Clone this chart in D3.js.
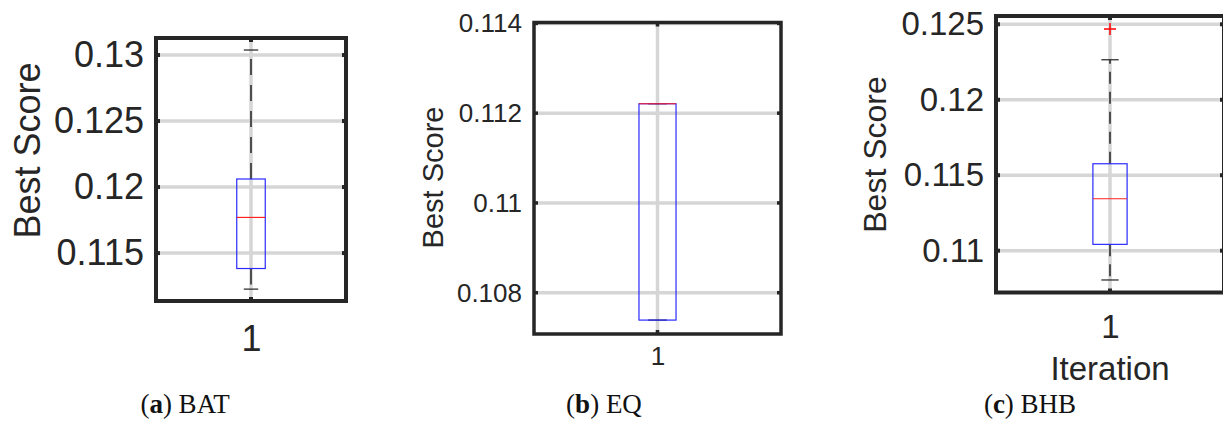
<!DOCTYPE html>
<html lang="en">
<head>
<meta charset="utf-8">
<title>Best Score box plots</title>
<script src="https://cdn.jsdelivr.net/npm/d3@7/dist/d3.min.js"></script>
<style>
  body { margin: 0; background: #fff; }
  svg text { fill: #262626; font-family: "Liberation Sans", Arial, sans-serif; }
  svg .caption text { font-family: "Liberation Serif", "DejaVu Serif", serif; fill: #111; }
</style>
</head>
<body>
<script>
// ---- data ----
var panelNames = ["BAT", "EQ", "BHB"];
var captionLetters = ["a", "b", "c"];
var categories = ["1"];
var yDomains = [[0.11137, 0.13129], [0.10708, 0.11402], [0.10723, 0.12555]];
var yTicks = [[0.115, 0.12, 0.125, 0.13], [0.108, 0.11, 0.112, 0.114], [0.11, 0.115, 0.12, 0.125]];
var whiskerLow  = [0.11227, 0.10739, 0.10806];
var q1          = [0.11383, 0.10739, 0.11042];
var median      = [0.11770, 0.11221, 0.11344];
var q3          = [0.12061, 0.11221, 0.11576];
var whiskerHigh = [0.13038, 0.11221, 0.12265];
var outliers    = [[], [], [0.12469]];
var xLabels     = ["", "", "Iteration"];

// ---- layout (pixels) ----
var W = 1223, H = 425;
var frames = [
  {left: 156, right: 346, top: 38, bottom: 301, font: 36, labelFont: 36, frameW: 4, dash: "16,10", labelX: 40, labelY: 150.5, xPad: 24},
  {left: 534, right: 781, top: 22.5, bottom: 334, font: 26, labelFont: 29, frameW: 3.5, dash: "14,9", labelX: 443, labelY: 177.5, xPad: 13},
  {left: 996, right: 1224, top: 16, bottom: 292.5, font: 33, labelFont: 32, frameW: 4, dash: "12,8", labelX: 886, labelY: 154.5, xPad: 22}
];
var captionX = [185, 604, 1030];
var captionY = 413;
var boxHalf = 0.075, capHalf = 0.038;

var svg = d3.select("body").append("svg")
  .attr("width", W)
  .attr("height", H);

panelNames.forEach(function(name, i) {
  var f = frames[i];
  var g = svg.append("g");

  var x = d3.scaleLinear().domain([0.5, 1.5]).range([f.left, f.right]);
  var y = d3.scaleLinear().domain(yDomains[i]).range([f.bottom, f.top]);

  // grid lines
  g.selectAll(".hgrid")
    .data(yTicks[i])
    .enter()
    .append("line")
    .attr("x1", f.left).attr("x2", f.right)
    .attr("y1", function(d) { return y(d); })
    .attr("y2", function(d) { return y(d); })
    .attr("stroke", "#d6d6d6")
    .attr("stroke-width", 3.5);
  g.selectAll(".vgrid")
    .data(categories)
    .enter()
    .append("line")
    .attr("x1", function(d) { return x(+d); })
    .attr("x2", function(d) { return x(+d); })
    .attr("y1", f.top).attr("y2", f.bottom)
    .attr("stroke", "#d6d6d6")
    .attr("stroke-width", 3.5);

  // y axis tick labels via d3 axis
  var yAxis = d3.axisLeft(y)
    .tickValues(yTicks[i])
    .tickFormat(function(d) { return String(+d.toFixed(4)); })
    .tickSize(0)
    .tickPadding(12);
  var ya = g.append("g")
    .attr("transform", "translate(" + f.left + ",0)")
    .call(yAxis);
  ya.select(".domain").remove();
  ya.selectAll("text")
    .attr("font-size", f.font);

  // x axis tick labels
  var xAxis = d3.axisBottom(x)
    .tickValues(categories.map(Number))
    .tickFormat(d3.format("d"))
    .tickSize(0)
    .tickPadding(f.xPad);
  var xa = g.append("g")
    .attr("transform", "translate(0," + f.bottom + ")")
    .call(xAxis);
  xa.select(".domain").remove();
  xa.selectAll("text")
    .attr("font-size", f.font);

  if (xLabels[i]) {
    g.append("text")
      .attr("x", x(1))
      .attr("y", 380)
      .attr("text-anchor", "middle")
      .attr("font-size", f.font)
      .text(xLabels[i]);
  }

  // y label
  g.append("text")
    .attr("transform", "translate(" + f.labelX + "," + f.labelY + ") rotate(-90)")
    .attr("text-anchor", "middle")
    .attr("font-size", f.labelFont)
    .text("Best Score");

  // box plot
  var c = 1;
  g.append("line")
    .attr("x1", x(c)).attr("x2", x(c))
    .attr("y1", y(q3[i])).attr("y2", y(whiskerHigh[i]))
    .attr("stroke", "#222").attr("stroke-width", 1.5)
    .attr("stroke-dasharray", f.dash);
  g.append("line")
    .attr("x1", x(c)).attr("x2", x(c))
    .attr("y1", y(q1[i])).attr("y2", y(whiskerLow[i]))
    .attr("stroke", "#222").attr("stroke-width", 1.5)
    .attr("stroke-dasharray", f.dash);
  [whiskerLow[i], whiskerHigh[i]].forEach(function(v) {
    g.append("line")
      .attr("x1", x(c - capHalf)).attr("x2", x(c + capHalf))
      .attr("y1", y(v)).attr("y2", y(v))
      .attr("stroke", "#222").attr("stroke-width", 1.2);
  });
  g.append("rect")
    .attr("x", x(c - boxHalf))
    .attr("width", x(c + boxHalf) - x(c - boxHalf))
    .attr("y", y(q3[i]))
    .attr("height", Math.max(0.5, y(q1[i]) - y(q3[i])))
    .attr("fill", "none")
    .attr("stroke", "#2a2aff")
    .attr("stroke-width", 1.2);
  g.append("line")
    .attr("x1", x(c - boxHalf)).attr("x2", x(c + boxHalf))
    .attr("y1", y(median[i])).attr("y2", y(median[i]))
    .attr("stroke", "#ff2020").attr("stroke-width", 1.2);

  outliers[i].forEach(function(v) {
    g.append("path")
      .attr("d", "M" + (x(c) - 6) + "," + y(v) + "h12M" + x(c) + "," + (y(v) - 6) + "v12")
      .attr("stroke", "#ff0000").attr("stroke-width", 1.5).attr("fill", "none");
  });

  // frame and inner ticks
  g.append("rect")
    .attr("x", f.left).attr("y", f.top)
    .attr("width", f.right - f.left).attr("height", f.bottom - f.top)
    .attr("fill", "none")
    .attr("stroke", "#262626")
    .attr("stroke-width", f.frameW);
  yTicks[i].forEach(function(t) {
    g.append("line").attr("x1", f.left).attr("x2", f.left + 4)
      .attr("y1", y(t)).attr("y2", y(t))
      .attr("stroke", "#262626").attr("stroke-width", f.frameW);
    g.append("line").attr("x1", f.right - 4).attr("x2", f.right)
      .attr("y1", y(t)).attr("y2", y(t))
      .attr("stroke", "#262626").attr("stroke-width", f.frameW);
  });
  g.append("line").attr("x1", x(c)).attr("x2", x(c))
    .attr("y1", f.top).attr("y2", f.top + 4)
    .attr("stroke", "#262626").attr("stroke-width", f.frameW);
  g.append("line").attr("x1", x(c)).attr("x2", x(c))
    .attr("y1", f.bottom - 4).attr("y2", f.bottom)
    .attr("stroke", "#262626").attr("stroke-width", f.frameW);

  // caption
  var cap = svg.append("g").attr("class", "caption");
  var t = cap.append("text")
    .attr("x", captionX[i])
    .attr("y", captionY)
    .attr("text-anchor", "middle")
    .attr("font-size", 27);
  t.append("tspan").text("(");
  t.append("tspan").attr("font-weight", "bold").text(captionLetters[i]);
  t.append("tspan").text(") " + name);
});
</script>
</body>
</html>
